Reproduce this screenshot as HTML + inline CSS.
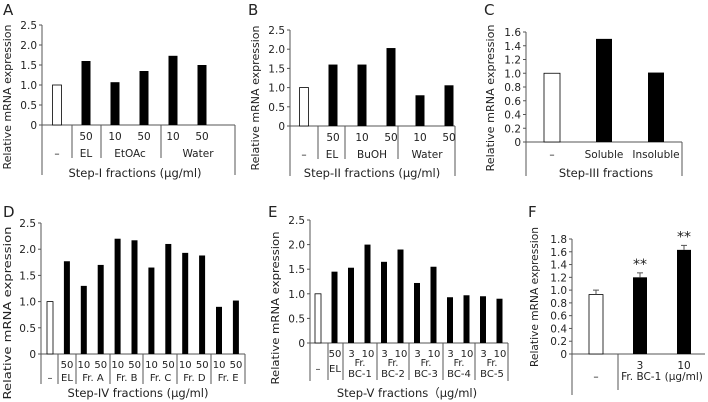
<!DOCTYPE html>
<html><head><meta charset="utf-8"><style>
html,body{margin:0;padding:0;background:#fff;}
svg{display:block;font-family:"DejaVu Sans","Liberation Sans",sans-serif;}
text{fill:#222;}
</style></head><body>
<svg id="fig" width="708" height="402" viewBox="0 0 708 402" xmlns="http://www.w3.org/2000/svg"></svg>
<script>
// ---- data ----
const aValues = [1.0, 1.6, 1.07, 1.35, 1.73, 1.5];
const aTicks = ["0","0.5","1.0","1.5","2.0","2.5"];
const bValues = [1.0, 1.6, 1.6, 2.03, 0.8, 1.06];
const bTicks = ["0","0.5","1.0","1.5","2.0","2.5"];
const cValues = [1.0, 1.5, 1.01];
const cTicks = ["0","0.2","0.4","0.6","0.8","1.0","1.2","1.4","1.6"];
const dValues = [1.0, 1.77, 1.3, 1.7, 2.2, 2.17, 1.65, 2.1, 1.93, 1.88, 0.9, 1.02];
const dTicks = ["0","0.5","1.0","1.5","2.0","2.5"];
const eValues = [1.0, 1.45, 1.53, 2.0, 1.65, 1.9, 1.22, 1.55, 0.93, 0.97, 0.95, 0.9];
const eTicks = ["0","0.5","1.0","1.5","2.0","2.5"];
const fValues = [0.93, 1.2, 1.63];
const fErrors = [0.07, 0.07, 0.07];
const fSig = ["", "**", "**"];
const fTicks = ["0","0.2","0.4","0.6","0.8","1.0","1.2","1.4","1.6","1.8"];

const NS = "http://www.w3.org/2000/svg";
const svg = document.getElementById("fig");
function mk(tag, attrs, parent, txt){
  const e = document.createElementNS(NS, tag);
  for (const k in attrs) e.setAttribute(k, attrs[k]);
  if (txt !== undefined) e.textContent = txt;
  (parent || svg).appendChild(e);
  return e;
}
function line(g,x1,y1,x2,y2,name){
  const l = mk("line",{x1:x1,y1:y1,x2:x2,y2:y2,stroke:"#555","stroke-width":1},g);
  
  
  return l;
}
function txt(g,x,y,s,size,name,anchor){
  const t = mk("text",{x:x,y:y,"font-size":size||10.5,"text-anchor":anchor||"middle"},g,s);
  
  
  return t;
}

function panel(p){
  const g = mk("g",{});
  
  
  const yS = v => p.y0 - (v / p.max) * (p.y0 - p.yTop);
  const xS = i => p.x0 + i * p.step;
  txt(g, p.letterX, p.letterY, p.id.toUpperCase(), 15, 'panel-letter', 'start');
  const t = mk("text",{x:0,y:0,"font-size":11,"text-anchor":"middle",textLength:p.titleLen,lengthAdjust:"spacingAndGlyphs",transform:`translate(${p.titleX},${p.titleC}) rotate(-90)`},g,"Relative mRNA expression");
  
  
  line(g,p.axisX,p.yTop,p.axisX,p.y0,'y-axis');
  line(g,p.axisX,p.y0,p.xEnd,p.y0,'x-axis');
  const n = p.ticks.length;
  p.ticks.forEach((lab,i)=>{
    const v = p.max * i/(n-1);
    const y = yS(v);
    line(g,p.axisX-3,y,p.axisX,y,'y-tick');
    txt(g,p.axisX-5,y+4,lab,10.5,'y-tick-label','end');
  });
  p.values.forEach((v,i)=>{
    const cx = xS(i);
    const r = mk("rect",{x:cx-p.bw/2,y:yS(v),width:p.bw,height:p.y0-yS(v),
      fill: i===0 ? "#fff" : "#000", stroke:"#000","stroke-width": i===0?0.8:0},g);
    
    
    if (p.errors){
      const e = p.errors[i];
      line(g,cx,yS(v),cx,yS(v+e),'error-bar');
      line(g,cx-3,yS(v+e),cx+3,yS(v+e),'error-cap');
    }
    if (p.sig && p.sig[i]){
      txt(g,cx,yS(v+(p.errors?p.errors[i]:0))-4,p.sig[i],14,'significance-mark');
    }
  });
  return g;
}

// Panel A
let g = panel({id:"a",values:aValues,ticks:aTicks,max:2.5,axisX:42,yTop:25,y0:125,xEnd:235,x0:57,step:29,bw:9,letterX:3,letterY:15,titleX:11,titleC:97,titleLen:145});
[72,101,161].forEach(x=>line(g,x,125,x,158));
line(g,42,125,42,175); line(g,235,125,235,175);
["50","10","50","10","50"].forEach((s,i)=>txt(g,86+i*29,140,s,10.5,'x-dose-label'));
txt(g,57,157,"–",10.5,'x-group-label'); txt(g,86,157,"EL",10.5,'x-group-label');
txt(g,130,157,"EtOAc",10.5,'x-group-label'); txt(g,198,157,"Water",10.5,'x-group-label');
txt(g,135,177,"Step-I fractions (μg/ml)",11.5,'x-axis-title');

// Panel B
g = panel({id:"b",values:bValues,ticks:bTicks,max:2.5,axisX:290,yTop:30,y0:126,xEnd:455,x0:304,step:29,bw:9,letterX:248,letterY:15,titleX:259,titleC:98,titleLen:145});
[318,345,398].forEach(x=>line(g,x,126,x,159));
line(g,290,126,290,176); line(g,455,126,455,176);
["50","10","50","10","50"].forEach((s,i)=>txt(g,333+i*29,141,s,10.5,'x-dose-label'));
txt(g,304,158,"–",10.5,'x-group-label'); txt(g,332,158,"EL",10.5,'x-group-label');
txt(g,372,158,"BuOH",10.5,'x-group-label'); txt(g,427,158,"Water",10.5,'x-group-label');
txt(g,372,177,"Step-II fractions (μg/ml)",11.5,'x-axis-title');

// Panel C
g = panel({id:"c",values:cValues,ticks:cTicks,max:1.6,axisX:526,yTop:32,y0:142,xEnd:682,x0:552,step:52,bw:16,letterX:484,letterY:15,titleX:494,titleC:98,titleLen:147});
line(g,526,142,526,176); line(g,682,142,682,176);
txt(g,552,158,"–",10.5,'x-group-label'); txt(g,604,158,"Soluble",10.5,'x-group-label'); txt(g,656,158,"Insoluble",10.5,'x-group-label');
txt(g,606,177,"Step-III fractions",11.5,'x-axis-title');

// Panel D
g = panel({id:"d",values:dValues,ticks:dTicks,max:2.5,axisX:41,yTop:223,y0:354,xEnd:245,x0:50,step:16.9,bw:6,letterX:3,letterY:217,titleX:11,titleC:313,titleLen:173});
[58,76,110,143,177,211].forEach(x=>line(g,x,354,x,384));
line(g,41,354,41,384); line(g,245,354,245,384);
["50","10","50","10","50","10","50","10","50","10","50"].forEach((s,i)=>txt(g,67+i*16.9,368,s,10,'x-dose-label'));
txt(g,50,381,"–",10,'x-group-label'); txt(g,67,381,"EL",10,'x-group-label');
["Fr. A","Fr. B","Fr. C","Fr. D","Fr. E"].forEach((s,i)=>txt(g,93+i*33.8,381,s,10,'x-group-label'));
txt(g,138,397,"Step-IV fractions (μg/ml)",11.5,'x-axis-title');

// Panel E
g = panel({id:"e",values:eValues,ticks:eTicks,max:2.5,axisX:310,yTop:220,y0:343,xEnd:508,x0:318,step:16.5,bw:6,letterX:268,letterY:217,titleX:279,titleC:308,titleLen:153});
[328,343,377,409,443,475].forEach(x=>line(g,x,343,x,380));
line(g,310,343,310,381); line(g,508,343,508,381);
["50","3","10","3","10","3","10","3","10","3","10"].forEach((s,i)=>txt(g,335+i*16.5,357,s,10,'x-dose-label'));
txt(g,318,372,"–",10,'x-group-label'); txt(g,335,372,"EL",10,'x-group-label');
["BC-1","BC-2","BC-3","BC-4","BC-5"].forEach((s,i)=>{
  txt(g,360+i*33,366,"Fr.",9.5,'x-group-label');
  txt(g,360+i*33,377,s,10,'x-group-label');
});
txt(g,407,397,"Step-V fractions（μg/ml)",11.5,'x-axis-title');

// Panel F
g = panel({id:"f",values:fValues,errors:fErrors,sig:fSig,ticks:fTicks,max:1.8,axisX:572,yTop:239,y0:354,xEnd:705,x0:596,step:44,bw:14,letterX:528,letterY:217,titleX:538,titleC:297,titleLen:140});
line(g,618,354,618,390); line(g,572,354,572,395);
txt(g,640,369,"3",10.5,'x-dose-label'); txt(g,684,369,"10",10.5,'x-dose-label');
txt(g,596,380,"–",10.5,'x-group-label'); txt(g,662,380,"Fr. BC-1 (μg/ml)",10.5,'x-group-label');
</script>
</body></html>
